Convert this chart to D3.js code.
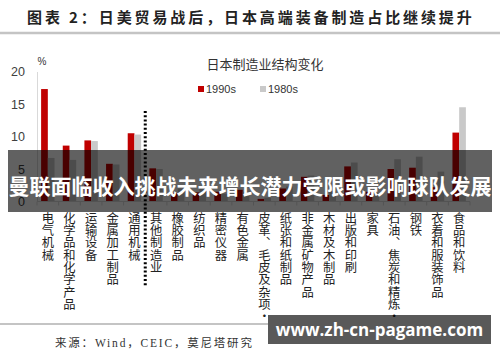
<!DOCTYPE html>
<html>
<head>
<meta charset="utf-8">
<script src="https://cdn.jsdelivr.net/npm/d3@7"></script>
<style>
    body { margin: 0; background: #fff; }
    svg { display: block; }
</style>
</head>
<body>
<div id="chart"></div>
<script>

var categories = ["电气机械", "化学品和化学产品", "运输设备", "金属加工制品", "通用机械",
    "其他制造业", "橡胶制品", "纺织品", "精密仪器", "有色金属",
    "皮革、毛皮及杂项·", "纸张和纸制品", "非金属矿物产品", "木材及木制品", "出版和印刷",
    "家具", "石油、焦炭和精炼·", "钢铁", "衣着和服装饰品", "食品和饮料"];

var values1990s = [17.3, 8.6, 9.4, 5.8, 10.5, 5.1, 1.3, 1.4, 1.5, 1.8,
    0.4, 2.0, 3.8, 1.0, 5.4, 1.5, 5.0, 5.2, 2.2, 10.6];

var values1980s = [6.7, 6.4, 9.3, 5.7, 10.3, 5.0, 2.0, 2.4, 1.2, 1.5,
    0.6, 2.3, 4.0, 1.6, 6.0, 1.3, 6.5, 6.9, 4.6, 14.5];

var seriesNames = ["1990s", "1980s"];
var yTicks = [0, 5, 10, 15, 20];

var headerTitle = "图表 2：日美贸易战后，日本高端装备制造占比继续提升";
var chartTitle = "日本制造业结构变化";
var sourceText = "来源：Wind，CEIC，莫尼塔研究";
var bannerText = "曼联面临收入挑战未来增长潜力受限或影响球队发展";
var siteText = "www.zh-cn-pagame.com";

window.onload = function() {

    var width = 500,
        height = 362;

    var cjk = "'Noto Sans CJK SC', sans-serif",
        latin = "'Liberation Sans', Arial, sans-serif";

    var colors = d3.scaleOrdinal()
        .domain(seriesNames)
        .range(["#c00000", "#c9c9c9"]);

    var svg = d3.select("#chart").append("svg")
        .attr("width", width)
        .attr("height", height);

    // header
    svg.append("text")
        .attr("x", 27)
        .attr("y", 16)
        .attr("dominant-baseline", "central")
        .style("font-family", cjk)
        .style("font-weight", "bold")
        .style("font-size", "15px")
        .style("letter-spacing", "2.9px")
        .style("fill", "#222")
        .text(headerTitle);

    svg.append("line")
        .attr("x1", 0).attr("x2", width)
        .attr("y1", 33).attr("y2", 33)
        .style("stroke", "#c4c4c4")
        .style("stroke-width", 2.5);

    var x = d3.scaleBand()
        .domain(categories)
        .range([37, 470])
        .paddingInner(0.38)
        .paddingOuter(0.19);

    var xSub = d3.scaleBand()
        .domain(seriesNames)
        .range([0, x.bandwidth()]);

    var y = d3.scaleLinear()
        .domain([0, 20])
        .range([201.5, 71.5]);

    // y axis
    var yAxis = svg.append("g")
        .attr("transform", "translate(37,0)")
        .call(d3.axisLeft(y).tickValues(yTicks).tickSize(0).tickPadding(12));

    yAxis.select(".domain").style("stroke", "#d9d9d9");
    yAxis.selectAll("text")
        .style("font-family", latin)
        .style("font-size", "12.5px")
        .style("fill", "#404040");

    svg.append("text")
        .attr("x", 42)
        .attr("y", 61)
        .attr("text-anchor", "middle")
        .attr("dominant-baseline", "central")
        .style("font-family", latin)
        .style("font-size", "10px")
        .style("fill", "#333")
        .text("%");

    // bars
    var groups = svg.append("g")
        .selectAll("g")
        .data(categories)
        .enter().append("g")
        .attr("transform", function(d) { return "translate(" + x(d) + ",0)"; });

    groups.selectAll("rect")
        .data(function(d, i) {
            return [
                {key: "1990s", value: values1990s[i]},
                {key: "1980s", value: values1980s[i]}
            ];
        })
        .enter().append("rect")
        .attr("x", function(d) { return xSub(d.key); })
        .attr("y", function(d) { return y(d.value); })
        .attr("width", xSub.bandwidth())
        .attr("height", function(d) { return y(0) - y(d.value); })
        .style("fill", function(d) { return colors(d.key); });

    // x axis line with ticks between groups
    svg.append("line")
        .attr("x1", 37).attr("x2", 470)
        .attr("y1", y(0)).attr("y2", y(0))
        .style("stroke", "#d9d9d9");

    svg.append("g")
        .selectAll("line")
        .data(d3.range(categories.length + 1))
        .enter().append("line")
        .attr("x1", function(i) { return 37 + i * x.step(); })
        .attr("x2", function(i) { return 37 + i * x.step(); })
        .attr("y1", y(0))
        .attr("y2", y(0) + 4)
        .style("stroke", "#d9d9d9");

    // category labels, vertical
    svg.append("g")
        .selectAll("text")
        .data(categories)
        .enter().append("text")
        .attr("x", function(d) { return x(d) + x.bandwidth() / 2; })
        .attr("y", 212)
        .attr("writing-mode", "vertical-rl")
        .style("text-orientation", "upright")
        .style("font-family", cjk)
        .style("font-size", "12.3px")
        .style("fill", "#222")
        .text(function(d) { return d; });

    // dotted divider
    svg.append("line")
        .attr("x1", 37 + 5 * x.step()).attr("x2", 37 + 5 * x.step())
        .attr("y1", 111).attr("y2", 287)
        .style("stroke", "#000")
        .style("stroke-width", 3)
        .style("stroke-dasharray", "2,2.2");

    // chart title + legend
    svg.append("text")
        .attr("x", 265)
        .attr("y", 63)
        .attr("text-anchor", "middle")
        .attr("dominant-baseline", "central")
        .style("font-family", cjk)
        .style("font-size", "13px")
        .style("fill", "#333")
        .text(chartTitle);

    var legend = svg.append("g")
        .selectAll("g")
        .data(seriesNames)
        .enter().append("g")
        .attr("transform", function(d, i) { return "translate(" + (198 + i * 62) + ",89)"; });

    legend.append("rect")
        .attr("x", 0).attr("y", -3)
        .attr("width", 6).attr("height", 6)
        .style("fill", function(d) { return colors(d); });

    legend.append("text")
        .attr("x", 8)
        .attr("dominant-baseline", "central")
        .style("font-family", latin)
        .style("font-size", "11px")
        .style("fill", "#333")
        .text(function(d) { return d; });

    // footer
    svg.append("line")
        .attr("x1", 0).attr("x2", 268)
        .attr("y1", 324).attr("y2", 324)
        .style("stroke", "#c4c4c4")
        .style("stroke-width", 2);

    svg.append("text")
        .attr("x", 55)
        .attr("y", 343)
        .attr("dominant-baseline", "central")
        .style("font-family", "'Liberation Serif', 'Noto Sans CJK SC', serif")
        .style("font-size", "11.5px")
        .style("letter-spacing", "1.8px")
        .style("fill", "#333")
        .text(sourceText);

    // overlays
    svg.append("rect")
        .attr("x", 8).attr("y", 150)
        .attr("width", 484).attr("height", 62)
        .style("fill", "rgba(0,0,0,0.62)");

    svg.append("text")
        .attr("x", 250)
        .attr("y", 184.5)
        .attr("text-anchor", "middle")
        .attr("dominant-baseline", "central")
        .style("font-family", cjk)
        .style("font-weight", "bold")
        .style("font-size", "21px")
        .style("fill", "#fff")
        .text(bannerText);

    svg.append("rect")
        .attr("x", 268).attr("y", 315)
        .attr("width", 223).attr("height", 29)
        .style("fill", "rgba(0,0,0,0.65)");

    svg.append("text")
        .attr("x", 379.5)
        .attr("y", 329.5)
        .attr("text-anchor", "middle")
        .attr("dominant-baseline", "central")
        .style("font-family", "'Open Sans', sans-serif")
        .style("font-weight", "bold")
        .style("font-size", "17px")
        .style("fill", "#fff")
        .text(siteText);
};
</script>
</body>
</html>
